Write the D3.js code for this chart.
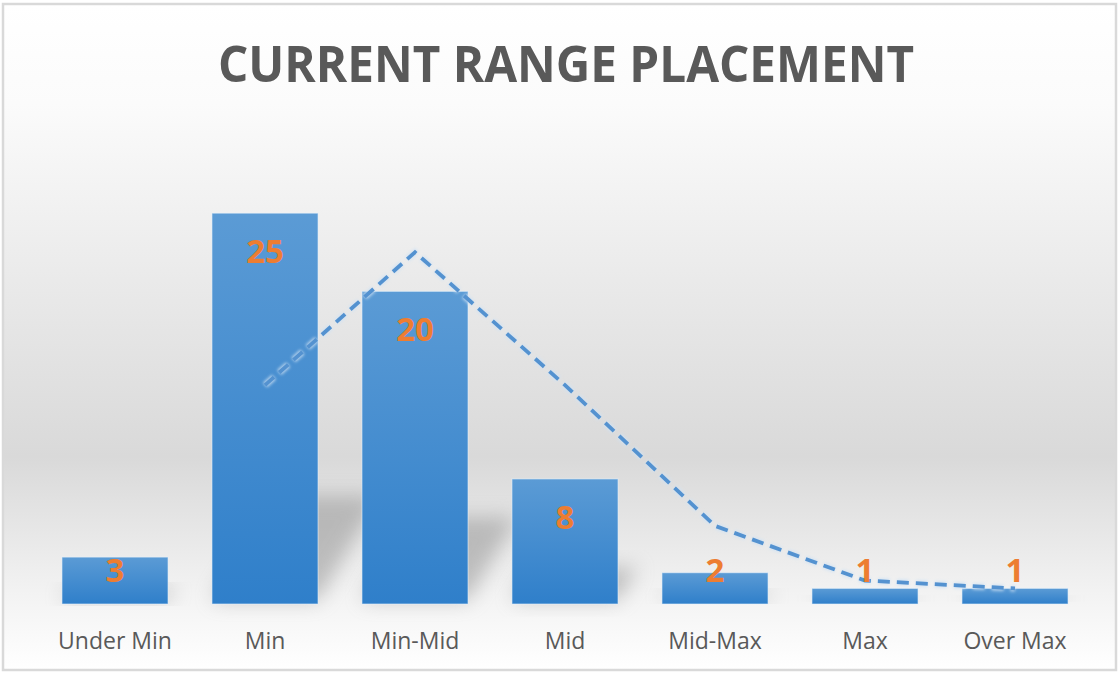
<!DOCTYPE html>
<head>
	<meta charset="utf-8">
	<script src="https://d3js.org/d3.v7.min.js"></script>
	<style>
		body { margin: 0; background: #fff; }
		svg { display: block; }
	</style>
</head>
<body>
	<script>
		// chart data
		var categories = ["Under Min", "Min", "Min-Mid", "Mid", "Mid-Max", "Max", "Over Max"];
		var counts = [3, 25, 20, 8, 2, 1, 1];
		// moving average trendline (2 period)
		var trend = [null, 14, 22.5, 14, 5, 1.5, 1];
		var title = "CURRENT RANGE PLACEMENT";

		var w = 1120, h = 675;

		var svg = d3.select("body").append("svg")
			.attr("width", w)
			.attr("height", h);

		var defs = svg.append("defs");

		var bg = defs.append("linearGradient").attr("id", "bg")
			.attr("x1", 0).attr("y1", 0).attr("x2", 0).attr("y2", 1);
		bg.append("stop").attr("offset", "0%").attr("stop-color", "#ffffff");
		bg.append("stop").attr("offset", "15%").attr("stop-color", "#fbfbfb");
		bg.append("stop").attr("offset", "68%").attr("stop-color", "#d9d9d9");
		bg.append("stop").attr("offset", "88%").attr("stop-color", "#f2f2f2");
		bg.append("stop").attr("offset", "100%").attr("stop-color", "#ffffff");

		var barGrad = defs.append("linearGradient").attr("id", "bar")
			.attr("x1", 0).attr("y1", 0).attr("x2", 0).attr("y2", 1);
		barGrad.append("stop").attr("offset", "0%").attr("stop-color", "#5b9bd5");
		barGrad.append("stop").attr("offset", "100%").attr("stop-color", "#2f7fca");

		var blur = defs.append("filter").attr("id", "blur")
			.attr("x", "-50%").attr("y", "-50%").attr("width", "200%").attr("height", "200%");
		blur.append("feGaussianBlur").attr("stdDeviation", 10);

		var glow = defs.append("filter").attr("id", "glow")
			.attr("x", "-10%").attr("y", "-10%").attr("width", "120%").attr("height", "120%");
		glow.append("feGaussianBlur").attr("stdDeviation", 1.5);

		// background + frame
		svg.append("rect")
			.attr("x", 3).attr("y", 4)
			.attr("width", 1113).attr("height", 666)
			.attr("fill", "url(#bg)")
			.attr("stroke", "#d9d9d9")
			.attr("stroke-width", 2.5);

		var xScale = d3.scaleBand()
			.domain(categories)
			.range([40, 1090])
			.paddingInner(0.293)
			.paddingOuter(0.1465);

		var yScale = d3.scaleLinear()
			.domain([0, 30])
			.range([604, 135]);

		// perspective shadows
		svg.append("g").selectAll("path")
			.data(categories)
			.enter()
			.append("path")
			.attr("d", function(d, i) {
				var x0 = xScale(d), x1 = x0 + xScale.bandwidth();
				var base = yScale(0) - 4;
				var hh = (base - yScale(counts[i])) * 0.27;
				var dx = hh * 0.6;
				return "M" + x0 + "," + base + "L" + x1 + "," + base +
					"L" + (x1 + dx) + "," + (base - hh) + "L" + (x0 + dx) + "," + (base - hh) + "Z";
			})
			.attr("fill", "#8c8c8c")
			.attr("opacity", 0.5)
			.attr("filter", "url(#blur)");

		// bars
		svg.append("g").selectAll("rect")
			.data(categories)
			.enter()
			.append("rect")
			.attr("x", function(d) { return xScale(d); })
			.attr("y", function(d, i) { return yScale(counts[i]); })
			.attr("width", xScale.bandwidth())
			.attr("height", function(d, i) { return yScale(0) - yScale(counts[i]); })
			.attr("fill", "url(#bar)")
			.attr("stroke", "#eaf3fb")
			.attr("stroke-opacity", 0.6)
			.attr("stroke-width", 1);

		// trendline
		var line = d3.line()
			.defined(function(d) { return d != null; })
			.x(function(d, i) { return xScale(categories[i]) + xScale.bandwidth() / 2; })
			.y(function(d) { return yScale(d); });

		svg.append("path")
			.datum(trend)
			.attr("d", line)
			.attr("fill", "none")
			.attr("stroke", "#cfe2f4")
			.attr("stroke-opacity", 0.8)
			.attr("stroke-width", 6.5)
			.attr("stroke-dasharray", "12,7")
			.attr("filter", "url(#glow)");

		svg.append("path")
			.datum(trend)
			.attr("d", line)
			.attr("fill", "none")
			.attr("stroke", "#5492d0")
			.attr("stroke-width", 3.8)
			.attr("stroke-dasharray", "12,7");

		// value labels
		svg.append("g").selectAll("text")
			.data(categories)
			.enter()
			.append("text")
			.attr("x", function(d) { return xScale(d) + xScale.bandwidth() / 2; })
			.attr("y", function(d, i) { return Math.min(yScale(counts[i]) + 50, 582); })
			.attr("text-anchor", "middle")
			.attr("font-family", "'Open Sans', sans-serif")
			.attr("font-weight", "bold")
			.attr("font-size", 33)
			.attr("fill", "#ed7d31")
			.text(function(d, i) { return counts[i]; });

		// category axis
		var xAxis = d3.axisBottom(xScale).tickSize(0).tickPadding(29);
		var gx = svg.append("g")
			.attr("transform", "translate(0," + yScale(0) + ")")
			.call(xAxis);
		gx.select(".domain").remove();
		gx.selectAll("text")
			.attr("font-family", "'Open Sans', sans-serif")
			.attr("font-size", 23)
			.attr("fill", "#595959");

		// title
		svg.append("text")
			.attr("x", 566)
			.attr("y", 82)
			.attr("text-anchor", "middle")
			.attr("font-family", "'Open Sans', sans-serif")
			.attr("font-weight", "bold")
			.attr("font-size", 51)
			.attr("fill", "#595959")
			.attr("textLength", 696)
			.attr("lengthAdjust", "spacingAndGlyphs")
			.text(title);
	</script>
</body>
